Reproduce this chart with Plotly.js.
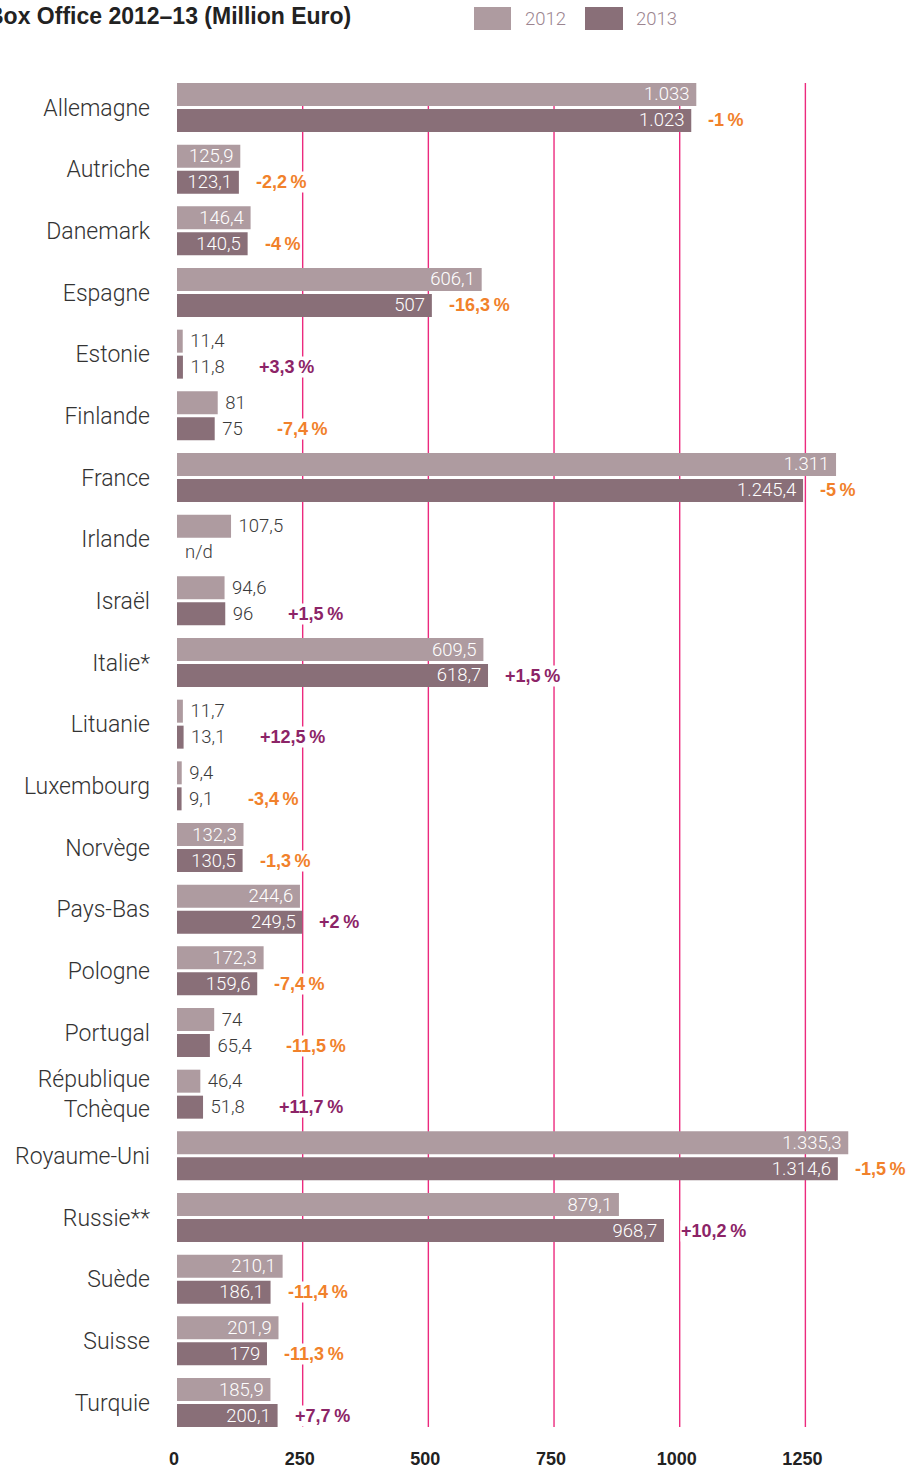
<!DOCTYPE html>
<html>
<head>
<meta charset="utf-8">
<script src="https://cdn.plot.ly/plotly-3.0.1.min.js"></script>
<style>
html,body{margin:0;padding:0;background:#fff;}
#chart{width:914px;height:1468px;}
</style>
</head>
<body>
<div id="chart"></div>
<script>
// ---- data ----
const countries = ['Allemagne','Autriche','Danemark','Espagne','Estonie','Finlande','France','Irlande','Israël','Italie*','Lituanie','Luxembourg','Norvège','Pays-Bas','Pologne','Portugal','République<br>Tchèque','Royaume-Uni','Russie**','Suède','Suisse','Turquie'];
const box2012 = [1033, 125.9, 146.4, 606.1, 11.4, 81, 1311, 107.5, 94.6, 609.5, 11.7, 9.4, 132.3, 244.6, 172.3, 74, 46.4, 1335.3, 879.1, 210.1, 201.9, 185.9];
const box2013 = [1023, 123.1, 140.5, 507, 11.8, 75, 1245.4, null, 96, 618.7, 13.1, 9.1, 130.5, 249.5, 159.6, 65.4, 51.8, 1314.6, 968.7, 186.1, 179, 200.1];
const pctChange = [-1, -2.2, -4, -16.3, 3.3, -7.4, -5, null, 1.5, 1.5, 12.5, -3.4, -1.3, 2, -7.4, -11.5, 11.7, -1.5, 10.2, -11.4, -11.3, 7.7];
const xTicks = [0, 250, 500, 750, 1000, 1250];
const seriesNames = ['2012', '2013'];
const missingLabel = 'n/d';
const titleText = 'Box Office 2012–13 (Million Euro)';

// ---- style / layout constants ----
const C2012 = '#ae9ba0', C2013 = '#896f78';
const MAGENTA = '#e8156f', GRID = '#ec2a7e';
const ORANGE = '#f1812b', PURPLE = '#8c2467';
const LIGHT = 'Roboto';
const BOLD = 'Liberation Sans, Arial, sans-serif';
const L = 177, T = 83, W = 733, H = 1344, FIG_W = 914, FIG_H = 1468;
const XMAX = 733 / 0.5027;
const INSIDE_MIN = 120;
const VAL_SIZE = 18.5;

function fmt(v){
  if (v === null || v === undefined) return '';
  const neg = v < 0; v = Math.abs(v);
  let s = (Math.round(v*10)/10).toString();
  let [ip, dp] = s.split('.');
  ip = ip.replace(/\B(?=(\d{3})+(?!\d))/g, '.');
  return (neg ? '-' : '') + ip + (dp ? ',' + dp : '');
}
function fmtPct(p){
  return (p > 0 ? '+' : '-') + fmt(Math.abs(p)) + '\u2009%';
}
const canvas = document.createElement('canvas');
const ctx = canvas.getContext('2d');
ctx.font = '300 ' + VAL_SIZE + 'px Roboto';
function textW(s){ return ctx.measureText(s).width; }

function labels(vals){
  return vals.map(v => v === null ? '' : (v >= INSIDE_MIN ? fmt(v) + '\u2009' : '\u00A0' + fmt(v)));
}
function positions(vals){ return vals.map(v => v !== null && v >= INSIDE_MIN ? 'inside' : 'outside'); }
function colors(vals){ return vals.map(v => v !== null && v >= INSIDE_MIN ? '#ffffff' : '#3a3a3a'); }

const traces = [box2012, box2013].map((vals, k) => ({
  type: 'bar', orientation: 'h',
  name: seriesNames[k],
  y: countries, x: vals,
  marker: {color: k === 0 ? C2012 : C2013, line: {width: 0}},
  text: labels(vals),
  textposition: positions(vals),
  insidetextanchor: 'end',
  constraintext: 'none',
  cliponaxis: false,
  textfont: {family: LIGHT, size: VAL_SIZE, color: colors(vals), weight: 300},
  hoverinfo: 'x+y+name'
}));

const px2x = p => (p - L) / W;
const py2y = p => (T + H - p) / H;

const annotations = [];
const shapes = [];
// vertical grid lines at the tick values (below the bars)
xTicks.filter(t => t > 0).forEach(t => {
  shapes.push({type: 'line', xref: 'x', yref: 'paper', x0: t, x1: t, y0: 0, y1: 1,
    line: {color: GRID, width: 1.4}, layer: 'below'});
});
// percent labels
countries.forEach((c, i) => {
  const p = pctChange[i];
  const v = box2013[i];
  if (p === null || v === null) return;
  const inside = v >= INSIDE_MIN;
  const shift = inside ? 16 : (7 + textW(fmt(v)) + 34);
  annotations.push({
    x: v, y: c, xref: 'x', yref: 'y', xanchor: 'left', yanchor: 'middle',
    xshift: shift, yshift: -13, showarrow: false,
    text: '<b>' + fmtPct(p) + '</b>',
    font: {family: BOLD, size: 18, color: p < 0 ? ORANGE : PURPLE},
    bgcolor: '#ffffff', borderpad: 0
  });
});
// missing value label
countries.forEach((c, i) => {
  if (box2013[i] === null) {
    annotations.push({
      x: 0, y: c, xref: 'x', yref: 'y', xanchor: 'left', yanchor: 'middle',
      xshift: 6, yshift: -13, showarrow: false, text: missingLabel,
      font: {family: LIGHT, size: VAL_SIZE, color: '#3a3a3a', weight: 300}
    });
  }
});
// title
annotations.push({
  x: px2x(-15), y: py2y(16), xref: 'paper', yref: 'paper',
  xanchor: 'left', yanchor: 'middle', showarrow: false,
  text: '<b>' + titleText + '</b>',
  font: {family: BOLD, size: 23, color: '#222222'}
});
// legend
const legItems = [
  {x0: 474, x1: 511, tx: 523, color: C2012, name: seriesNames[0]},
  {x0: 585, x1: 623, tx: 634, color: C2013, name: seriesNames[1]}
];
legItems.forEach(it => {
  shapes.push({type: 'rect', xref: 'paper', yref: 'paper',
    x0: px2x(it.x0), x1: px2x(it.x1), y0: py2y(30), y1: py2y(7),
    fillcolor: it.color, line: {width: 0}, layer: 'above'});
  annotations.push({x: px2x(it.tx), y: py2y(18.5), xref: 'paper', yref: 'paper',
    xanchor: 'left', yanchor: 'middle', showarrow: false, text: it.name,
    font: {family: LIGHT, size: VAL_SIZE, color: '#9c8590', weight: 300}});
});
// magenta axis bar at zero
shapes.push({type: 'rect', xref: 'x', yref: 'paper', xsizemode: 'pixel', xanchor: 0,
  x0: -5, x1: 0, y0: 0, y1: 1, fillcolor: MAGENTA, line: {width: 0}, layer: 'above'});

const layout = {
  width: FIG_W, height: FIG_H,
  margin: {l: L, r: FIG_W - L - W, t: T, b: FIG_H - T - H, pad: 0},
  paper_bgcolor: '#ffffff', plot_bgcolor: '#ffffff',
  barmode: 'group', bargap: 0.157, bargroupgap: 0.115,
  showlegend: false,
  xaxis: {
    range: [0, XMAX], tickvals: xTicks, ticktext: xTicks.map(String),
    showgrid: false, zeroline: false, showline: false,
    ticks: '', ticklabelstandoff: 19, ticklabelshift: -3,
    tickfont: {family: BOLD, size: 18, color: '#222222', weight: 'bold'},
    fixedrange: true
  },
  yaxis: {
    type: 'category', categoryorder: 'array', categoryarray: countries,
    range: [countries.length - 1 + 0.397, -0.397],
    showgrid: false, zeroline: false, showline: false, ticks: '',
    ticklabelstandoff: 26,
    tickfont: {family: LIGHT, size: 23, color: '#333333', weight: 300},
    fixedrange: true
  },
  annotations: annotations,
  shapes: shapes,
  font: {family: LIGHT}
};

Plotly.newPlot('chart', traces, layout, {displayModeBar: false, staticPlot: true});
</script>
</body>
</html>
